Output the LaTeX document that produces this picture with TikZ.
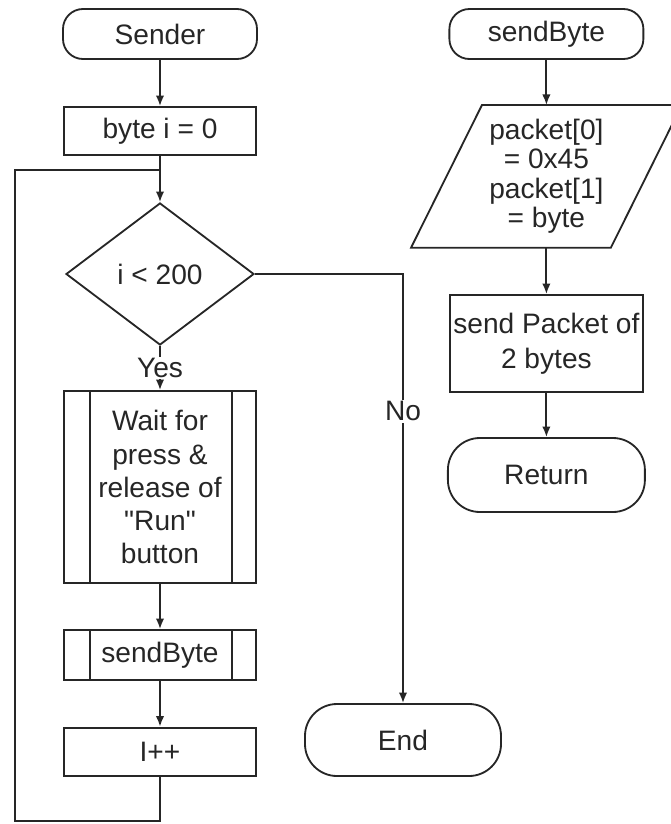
\documentclass[tikz,border=0pt]{standalone}
\usepackage{fontspec}
\setmainfont{Liberation Sans}
\usetikzlibrary{shapes.geometric,arrows.meta}

\tikzset{
	every node/.style={font=\fontsize{20}{23.5}\selectfont, align=center},
	terminal/.style={draw, rounded corners=0.5cm, minimum width=4.85cm, minimum height=1.25cm},
	process/.style={draw, minimum width=4.8cm, minimum height=1.2cm, inner sep=2pt},
	subproc/.style={process, path picture={
		\draw ([xshift=0.65cm]path picture bounding box.north west) -- ([xshift=0.65cm]path picture bounding box.south west);
		\draw ([xshift=-0.6cm]path picture bounding box.north east) -- ([xshift=-0.6cm]path picture bounding box.south east);}},
	decision/.style={draw, diamond, minimum width=4.7cm, minimum height=3.55cm, inner sep=0pt},
	inout/.style={minimum width=4.95cm, minimum height=3.525cm, font=\fontsize{20}{21}\selectfont},
	tag/.style={fill=white, inner sep=1pt},
	flow/.style={-{Latex[length=7.5pt,width=6pt]}}
}

\begin{document}
\begin{tikzpicture}[line width=1.3pt, color=black!85]
	\useasboundingbox (0,0) rectangle (16.775,-20.6);
	% Sender
	\node[terminal] (sender) at (4,-0.85) {Sender};
	\node[process] (byte) at (4,-3.275) {byte i = 0};
	\node[decision] (dec) at (4,-6.85) {i < 200};
	\node[subproc, minimum height=4.8cm] (wait) at (4,-12.175) {Wait for\\press \&\\release of\\\textquotedbl Run\textquotedbl\\button};
	\node[subproc, minimum height=1.25cm] (call) at (4,-16.375) {sendByte};
	\node[process] (inc) at (4,-18.79) {I++};
	\node[terminal, rounded corners=0.8cm, minimum width=4.9cm, minimum height=1.8cm] (endn) at (10.075,-18.5) {End};
	\coordinate (loopbot) at (0.375,-20.525);
	\coordinate (looptop) at (0.375,-4.25);
	\draw[flow] (sender) -- (byte);
	\draw[flow] (byte) -- (dec);
	\draw[flow] (dec) -- node[tag]{Yes} (wait);
	\draw[flow] (wait) -- (call);
	\draw[flow] (call) -- (inc);
	\draw (inc.south) |- (loopbot) -- (looptop) -- (looptop -| dec.north);
	\draw[flow] (dec.east) -| node[tag, pos=0.66]{No} (endn.north);
	% sendByte
	\node[terminal] (subr) at (13.66,-0.85) {sendByte};
	\node[inout] (io) at (13.66,-4.41) {packet[0]\\= 0x45\\packet[1]\\= byte};
	\draw ([xshift=0.8875cm]io.north west) -- ([xshift=0.8875cm]io.north east) -- ([xshift=-0.8875cm]io.south east) -- ([xshift=-0.8875cm]io.south west) -- cycle;
	\node[process, minimum width=4.825cm, minimum height=2.425cm, font=\fontsize{20}{25}\selectfont] (pkt) at (13.66,-8.5875) {send Packet of\\2 bytes};
	\node[terminal, rounded corners=0.8cm, minimum width=4.925cm, minimum height=1.85cm] (ret) at (13.66,-11.875) {Return};
	\draw[flow] (subr) -- (io);
	\draw[flow] (io) -- (pkt);
	\draw[flow] (pkt) -- (ret);
\end{tikzpicture}
\end{document}
